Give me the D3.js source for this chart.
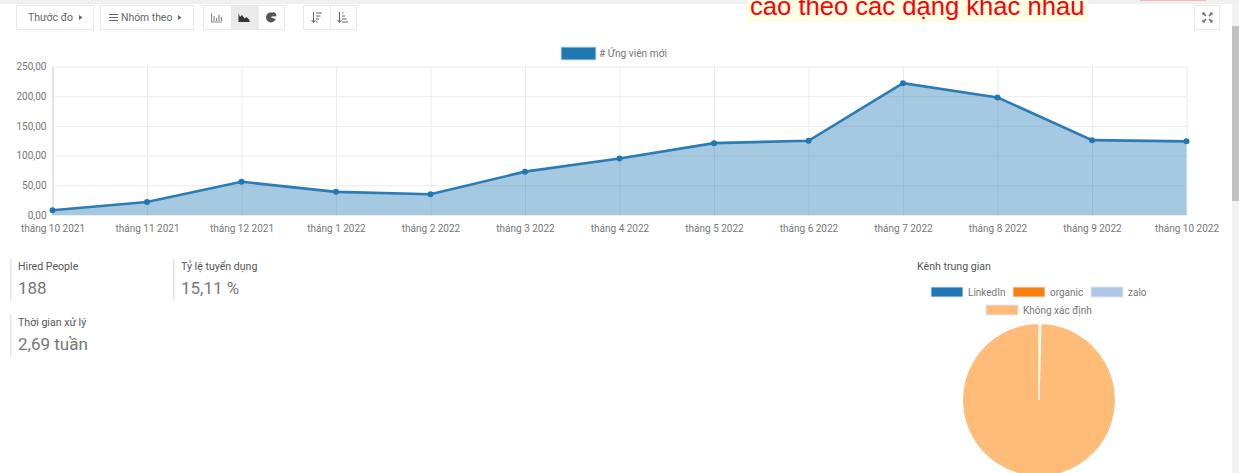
<!DOCTYPE html>
<html>
<head>
<meta charset="utf-8">
<script src="https://cdn.jsdelivr.net/npm/d3@7"></script>
<style>
html, body { margin: 0; padding: 0; background: #fff; overflow: hidden; }
svg { display: block; }
text { font-family: Roboto, "Noto Sans", sans-serif; }
</style>
</head>
<body>
<script>
// chart data
var months = ["tháng 10 2021", "tháng 11 2021", "tháng 12 2021", "tháng 1 2022", "tháng 2 2022", "tháng 3 2022",
    "tháng 4 2022", "tháng 5 2022", "tháng 6 2022", "tháng 7 2022", "tháng 8 2022", "tháng 9 2022", "tháng 10 2022"];
var applicants = [8, 22, 56, 39, 35, 73, 95, 121, 125, 222, 198, 126, 124];
var yTicks = [0, 50, 100, 150, 200, 250];
var seriesName = "# Ứng viên mới";

var channels = ["LinkedIn", "organic", "zalo", "Không xác định"];
var channelValues = [0, 0, 1, 250];
var channelColors = ["#1f77b4", "#ff7f0e", "#aec7e8", "#ffbb78"];

var svg = d3.select("body").append("svg")
    .attr("width", 1239)
    .attr("height", 473);

// page chrome
svg.append("rect").attr("x", 0).attr("y", 0).attr("width", 1239).attr("height", 4).attr("fill", "#f0f0f0");
svg.append("rect").attr("x", 1140).attr("y", 0).attr("width", 66).attr("height", 1).attr("fill", "#f4b6b6");
svg.append("rect").attr("x", 1232).attr("y", 4).attr("width", 7).attr("height", 469).attr("fill", "#f1f1f1");
svg.append("rect").attr("x", 1232).attr("y", 26).attr("width", 7).attr("height", 175).attr("fill", "#c1c1c1");

// toolbar buttons
var border = "#e9e9e9", ink = "#666";
function button(x, w, active) {
    svg.append("rect")
        .attr("x", x + 0.5).attr("y", 5.5)
        .attr("width", w).attr("height", 24)
        .attr("fill", active ? "#eaeaea" : "#fff")
        .attr("stroke", border);
}
function caret(x) {
    svg.append("path").attr("d", "M" + x + ",15v5l3.5,-2.5z").attr("fill", ink);
}
button(16, 77); button(100, 93);
button(203, 28); button(231, 27, true); button(258, 26);
button(303, 27); button(330, 26);
button(1194, 25);

svg.append("text").attr("x", 28).attr("y", 21).attr("font-size", 10.5).attr("fill", ink).text("Thước đo");
caret(79);
svg.append("path").attr("d", "M109,14.5h9M109,17.5h9M109,20.5h9").attr("stroke", ink).attr("stroke-width", 1);
svg.append("text").attr("x", 121).attr("y", 21).attr("font-size", 10.4).attr("fill", ink).text("Nhóm theo");
caret(178);

// bar, area, pie icons
svg.append("path").attr("d", "M211.5,13v9h10.5").attr("fill", "none").attr("stroke", "#888");
svg.append("path").attr("d", "M214,16v5M216.5,18v3M219,15v6M221.5,17v4").attr("stroke", "#888").attr("stroke-width", 1.2);
svg.append("path").attr("d", "M238.5,13v9h11v-2l-3,-3l-2,1.5l-2.5,-3.5l-2,2z").attr("fill", "#333");
svg.append("path")
    .attr("transform", "translate(271,17.5)")
    .attr("d", d3.arc().innerRadius(0).outerRadius(5)({startAngle: 1.9, endAngle: 6.9}))
    .attr("fill", "#555");
svg.append("path")
    .attr("transform", "translate(272,16.5)")
    .attr("d", d3.arc().innerRadius(0).outerRadius(4.5)({startAngle: 0.2, endAngle: 1.5}))
    .attr("fill", "#555");

// sort icons
svg.append("path").attr("d", "M313.5,12v10M311.5,20l2,2.5l2,-2.5").attr("fill", "none").attr("stroke", ink);
svg.append("path").attr("d", "M316,13h6M316,16h4.5M316,19h3M316,22h1.5").attr("stroke", ink);
svg.append("path").attr("d", "M339.5,12v10M337.5,20l2,2.5l2,-2.5").attr("fill", "none").attr("stroke", ink);
svg.append("path").attr("d", "M342,13h1.5M342,16h3M342,19h4.5M342,22h6").attr("stroke", ink);

// expand icon
svg.append("path")
    .attr("d", "M1203,13l3,3M1203,22l3,-3M1212,13l-3,3M1212,22l-3,-3")
    .attr("stroke", "#667").attr("stroke-width", 1.6);
svg.append("path")
    .attr("d", "M1202.5,12.5h3l-3,3zM1212.5,12.5h-3l3,3zM1202.5,22.5h3l-3,-3zM1212.5,22.5h-3l3,-3z")
    .attr("fill", "#667");

// red annotation, cut off by the top edge like in the screenshot
svg.append("rect").attr("x", 747).attr("y", 0).attr("width", 341).attr("height", 23).attr("fill", "#ffffe6");
svg.append("text").attr("x", 750).attr("y", 15).attr("font-size", 25.6)
    .style("font-family", "Liberation Sans")
    .attr("fill", "#f00").text("cáo theo các dạng khác nhau");

// line chart
var x = d3.scalePoint().domain(months).range([52.5, 1186.5]);
var y = d3.scaleLinear().domain([0, 250]).range([215, 66.5]);

var xGrid = svg.append("g").attr("transform", "translate(0,215)")
    .call(d3.axisBottom(x).tickSize(-148.5).tickPadding(10));
xGrid.select(".domain").remove();
xGrid.selectAll("line").attr("stroke", "#ececec");
xGrid.selectAll("text").attr("font-size", 10).attr("fill", "#777").style("font-family", "Roboto");
xGrid.selectAll(".tick").filter(function (d) { return d === months[0]; }).select("line")
    .attr("stroke", "#ddd").attr("stroke-width", 1.5);

var yGrid = svg.append("g").attr("transform", "translate(52.5,0)")
    .call(d3.axisLeft(y).tickValues(yTicks).tickSize(-1134).tickPadding(6)
        .tickFormat(function (d) { return d3.format(".2f")(d).replace(".", ","); }));
yGrid.select(".domain").remove();
yGrid.selectAll("line").attr("stroke", "#ececec");
yGrid.selectAll("text").attr("font-size", 10).attr("fill", "#777").style("font-family", "Roboto");

var points = months.map(function (m, i) { return {month: m, value: applicants[i]}; });

svg.append("path").datum(points)
    .attr("fill", "#1f77b4").attr("fill-opacity", 0.4)
    .attr("d", d3.area()
        .x(function (d) { return x(d.month); })
        .y0(y(0))
        .y1(function (d) { return y(d.value); }));

svg.append("path").datum(points)
    .attr("fill", "none").attr("stroke", "#2b7bb5").attr("stroke-width", 2.6)
    .attr("d", d3.line()
        .x(function (d) { return x(d.month); })
        .y(function (d) { return y(d.value); }));

svg.selectAll(".dot").data(points).enter().append("circle")
    .attr("class", "dot")
    .attr("cx", function (d) { return x(d.month); })
    .attr("cy", function (d) { return y(d.value); })
    .attr("r", 3)
    .attr("fill", "#1f77b4");

// chart legend
svg.append("rect").attr("x", 561).attr("y", 47).attr("width", 35).attr("height", 13)
    .attr("fill", "#1f77b4").attr("stroke", "#d5e4ef");
svg.append("text").attr("x", 599).attr("y", 56.5).attr("font-size", 10.2).attr("fill", "#777").text(seriesName);

// stat blocks
function stat(px, py, label, value) {
    svg.append("rect").attr("x", px).attr("y", py).attr("width", 1.5).attr("height", 41).attr("fill", "#e4e4e4");
    svg.append("text").attr("x", px + 8).attr("y", py + 11).attr("font-size", 10.6).attr("fill", "#555").text(label);
    svg.append("text").attr("x", px + 8).attr("y", py + 35).attr("font-size", 17).attr("fill", "#777").text(value);
}
stat(10, 259, "Hired People", "188");
stat(173, 259, "Tỷ lệ tuyển dụng", "15,11 %");
stat(10, 315, "Thời gian xử lý", "2,69 tuần");

svg.append("text").attr("x", 917).attr("y", 270).attr("font-size", 10.6).attr("fill", "#555").text("Kênh trung gian");

// pie legend
var legendX = [931, 1013, 1091, 986], legendY = [287, 287, 287, 305];
channels.forEach(function (name, i) {
    svg.append("rect").attr("x", legendX[i]).attr("y", legendY[i]).attr("width", 32).attr("height", 10)
        .attr("fill", channelColors[i]).attr("stroke", "#e3e8ee");
    svg.append("text").attr("x", legendX[i] + 37).attr("y", legendY[i] + 8.5)
        .attr("font-size", 10).attr("fill", "#777").text(name);
});

// pie
var arcs = d3.pie().sort(null)(channelValues);
svg.append("g").attr("transform", "translate(1039,400)")
    .selectAll("path").data(arcs).enter().append("path")
    .attr("d", d3.arc().innerRadius(0).outerRadius(76.5))
    .attr("fill", function (d, i) { return channelColors[i]; })
    .attr("stroke", "#fff").attr("stroke-width", 1.2);
</script>
</body>
</html>
